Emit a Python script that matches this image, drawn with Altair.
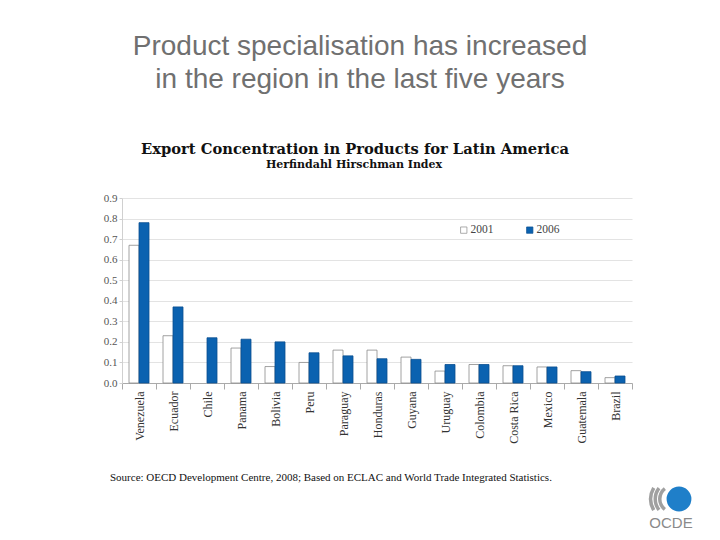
import altair as alt
import pandas as pd

countries = ["Venezuela", "Ecuador", "Chile", "Panama", "Bolivia", "Peru", "Paraguay",
             "Honduras", "Guyana", "Uruguay", "Colombia", "Costa Rica", "Mexico",
             "Guatemala", "Brazil"]
v2001 = [0.67, 0.23, None, 0.17, 0.08, 0.10, 0.16, 0.16, 0.126, 0.058, 0.09, 0.084, 0.078, 0.06, 0.026]
v2006 = [0.78, 0.37, 0.22, 0.213, 0.20, 0.147, 0.132, 0.118, 0.115, 0.09, 0.09, 0.084, 0.078, 0.055, 0.034]
years = ["2001", "2006"]
y_ticks = [0.0, 0.1, 0.2, 0.3, 0.4, 0.5, 0.6, 0.7, 0.8, 0.9]

rows = []
for c, a, b in zip(countries, v2001, v2006):
    if a is not None:
        rows.append({"country": c, "year": "2001", "value": a})
    rows.append({"country": c, "year": "2006", "value": b})
df = pd.DataFrame(rows)

SERIF = "Liberation Serif"
WSERIF = "DejaVu Serif"
SANS = "Liberation Sans"
BLUE = "#0B62B0"

bars = alt.Chart(df).mark_bar(strokeWidth=0.8).encode(
    x=alt.X("country:N", sort=countries,
            scale=alt.Scale(paddingInner=0, paddingOuter=0),
            axis=alt.Axis(title=None, labelAngle=270, labelAlign="right", labelBaseline="middle",
                          labelFont=SERIF, labelFontSize=12, labelColor="#333",
                          tickBand="extent", tickSize=6, tickColor="#aaa", domainColor="#aaa",
                          labelPadding=2, grid=False)),
    xOffset=alt.XOffset("year:N", sort=years,
                        scale=alt.Scale(paddingInner=0, paddingOuter=0.7)),
    y=alt.Y("value:Q", scale=alt.Scale(domain=[0, 0.9], nice=False),
            axis=alt.Axis(title=None, values=y_ticks, format=".1f", labelFont=SERIF,
                          labelFontSize=11, labelColor="#555", gridColor="#e3e3e3",
                          domainColor="#d0d0d0", tickColor="#d0d0d0", tickSize=3,
                          labelPadding=2)),
    fill=alt.Color("year:N", sort=years,
                   scale=alt.Scale(domain=years, range=["#ffffff", BLUE]),
                   legend=alt.Legend(title=None, orient="none", legendX=336, legendY=26,
                                     direction="horizontal", symbolType="square",
                                     symbolSize=40, symbolStrokeColor="#777",
                                     symbolStrokeWidth=0.7, labelFont=SERIF,
                                     labelFontSize=11.5, labelColor="#444",
                                     columnPadding=30, labelOffset=1)),
    stroke=alt.Stroke("year:N", sort=years,
                      scale=alt.Scale(domain=years, range=["#8a8a8a", "#0a4f90"]),
                      legend=None),
)

def txt(text, x, y, size, font, color, weight="normal", align="center"):
    return alt.Chart(pd.DataFrame({"t": [text]})).mark_text(
        fontSize=size, font=font, color=color, fontWeight=weight, align=align,
        baseline="alphabetic").encode(x=alt.value(x), y=alt.value(y), text="t:N")

title1 = txt("Product specialisation has increased", 238, -143, 28, SANS, "#707070")
title2 = txt("in the region in the last five years", 238, -110, 28, SANS, "#707070")
sub1 = txt("Export Concentration in Products for Latin America", 233, -44, 14.7, WSERIF, "#111", "bold")
sub2 = txt("Herfindahl Hirschman Index", 232, -30, 11, WSERIF, "#111", "bold")
source = txt("Source: OECD Development Centre, 2008; Based on ECLAC and World Trade Integrated Statistics.",
             -12, 283, 11, SERIF, "#111", align="left")

# OECD logo (decoration)
one = pd.DataFrame({"a": [1]})
logo_circle = alt.Chart(one).mark_point(
    filled=True, shape="circle", color="#1f7fc9", opacity=1).encode(
    x=alt.value(557), y=alt.value(301), size=alt.value(616))

def crescent(R, half_deg):
    import math
    a = math.radians(half_deg)
    c = 1.5 * math.pi
    return alt.Chart(one).mark_arc(color="#a0a0a0").encode(
        x=alt.value(551), y=alt.value(301),
        theta=alt.value(c - a), theta2=alt.value(c + a),
        radius=alt.value(R), radius2=alt.value(R - 3.5))

logo_arcs = [crescent(24, 30), crescent(19.5, 38), crescent(15, 52)]
logo_text = txt("OCDE", 549, 330, 15, SANS, "#8a8a8a")

chart = alt.layer(bars, title1, title2, sub1, sub2, source, *logo_arcs, logo_circle, logo_text).properties(
    width=510, height=185,
    padding={"left": 114, "top": 190, "right": 80, "bottom": 150},
    autosize=alt.AutoSizeParams(type="none"),
    background="white",
).configure_view(stroke=None)

chart.save("out.html", embed_options={"renderer": "svg", "actions": False})
